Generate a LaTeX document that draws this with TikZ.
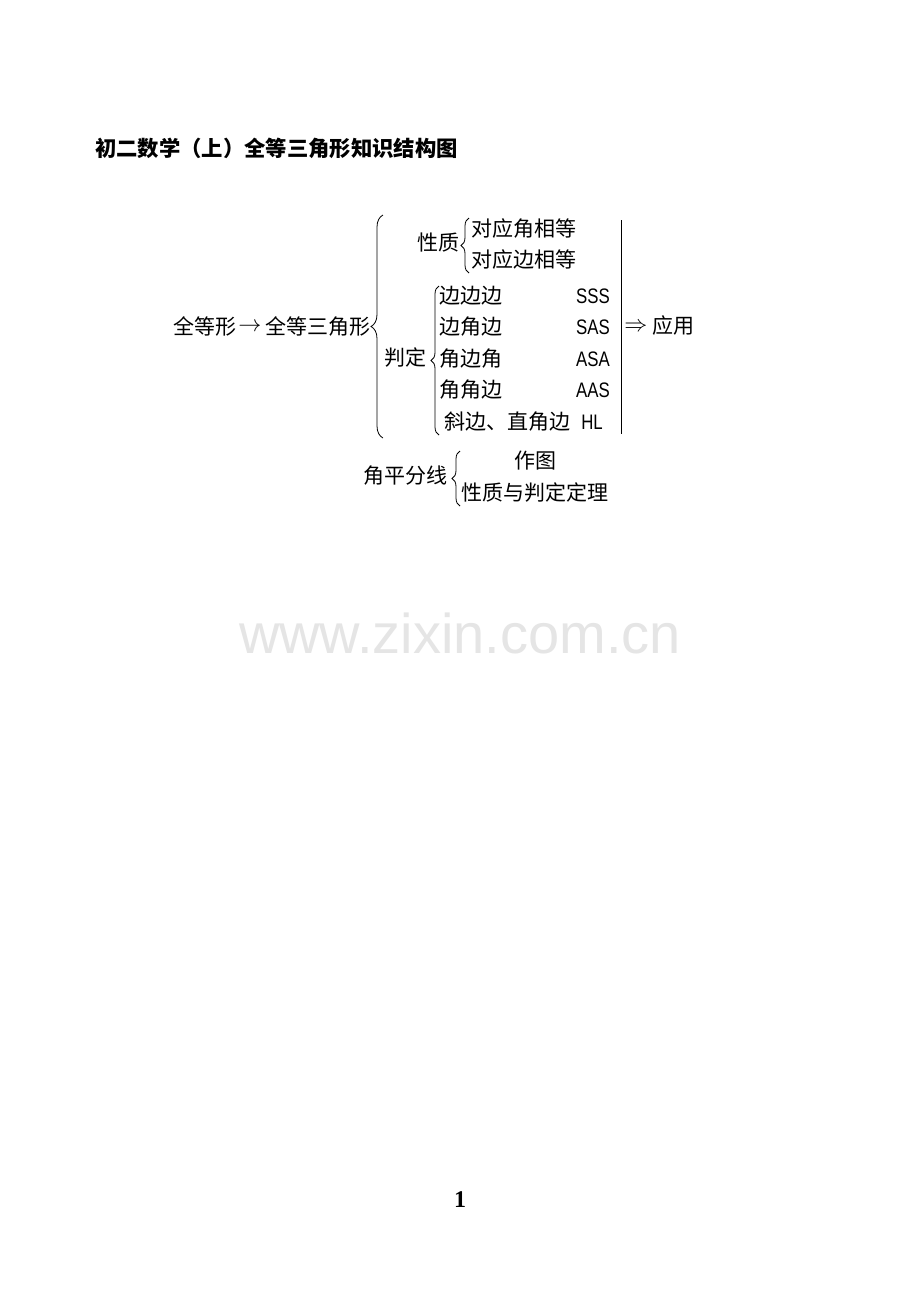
\documentclass[tikz,border=0pt]{standalone}
\usepackage{fontspec}
\setmainfont{Liberation Serif}
\newfontfamily\cjk{Noto Sans CJK SC}
\newfontfamily\latn{Liberation Sans}[FakeStretch=0.8]
\newfontfamily\wmark{Liberation Sans}
\usetikzlibrary{decorations.pathreplacing}
\begin{document}
\begin{tikzpicture}[x=0.75pt,y=-0.75pt,
  every node/.style={inner sep=0pt},
  txt/.style={font=\cjk\fontsize{15.75}{18}\selectfont},
  arrtxt/.style={font=\fontsize{17}{20}\selectfont},
  lat/.style={font=\latn\fontsize{15.75}{18}\selectfont},
  bigbrace/.style={draw, line width=0.6pt, decorate, decoration={brace, amplitude=9pt}},
  smallbrace/.style={draw, line width=0.6pt, decorate, decoration={brace, amplitude=6pt}},
  rule/.style={draw, line width=0.7pt}]
\path[use as bounding box, fill=white] (0,0) rectangle (920,1300);

% title
\node[anchor=west, font=\cjk\bfseries\fontsize{16}{18}\selectfont] (title) at (95,148) {初二数学（上）全等三角形知识结构图};

% main line
\node[txt, anchor=west] (qdx) at (173,326) {全等形};
\node[arrtxt] (arr) at (250,327) {$\rightarrow$};
\node[txt, anchor=west] (qdsjx) at (265,326) {全等三角形};
\draw[bigbrace] (383,438) -- (383,215);

% properties
\node[txt, anchor=west] (xz) at (417,243) {性质};
\draw[smallbrace] (469,273) -- (469,218);
\node[txt, anchor=west] (p1) at (471,229) {对应角相等};
\node[txt, anchor=west] (p2) at (471,260) {对应边相等};

% criteria
\node[txt, anchor=west] (pd) at (384,358) {判定};
\draw[smallbrace] (439,435) -- (439,286);
\node[txt, anchor=west] (c1) at (439,296) {边边边};
\node[txt, anchor=west] (c2) at (439,327) {边角边};
\node[txt, anchor=west] (c3) at (439,359) {角边角};
\node[txt, anchor=west] (c4) at (439,390) {角角边};
\node[txt, anchor=west] (c5) at (444,422) {斜边、直角边};
\node[lat, anchor=east] (l1) at (610,296) {SSS};
\node[lat, anchor=east] (l2) at (610,327) {SAS};
\node[lat, anchor=east] (l3) at (610,359) {ASA};
\node[lat, anchor=east] (l4) at (610,390) {AAS};
\node[lat, anchor=east] (l5) at (603,422) {HL};

% vertical rule and application
\coordinate (vt) at (621,220);
\coordinate (vb) at (621,434);
\draw[rule] (vt) -- (vb);
\node[arrtxt] (darr) at (636,327) {$\Rightarrow$};
\node[txt, anchor=west] (yy) at (652,326) {应用};

% angle bisector
\node[txt, anchor=west] (jpfx) at (363,476) {角平分线};
\draw[smallbrace] (460,506) -- (460,451);
\node[txt] (zt) at (535,461) {作图};
\node[txt, anchor=west] (xzpd) at (461,492) {性质与判定定理};

% watermark
\node[font=\wmark\fontsize{42}{48}\selectfont, text=black!10] (wm) at (460,633) {www.zixin.com.cn};

% page number
\node[font=\bfseries\fontsize{18}{20}\selectfont] (pg) at (460,1200) {1};
\end{tikzpicture}
\end{document}
